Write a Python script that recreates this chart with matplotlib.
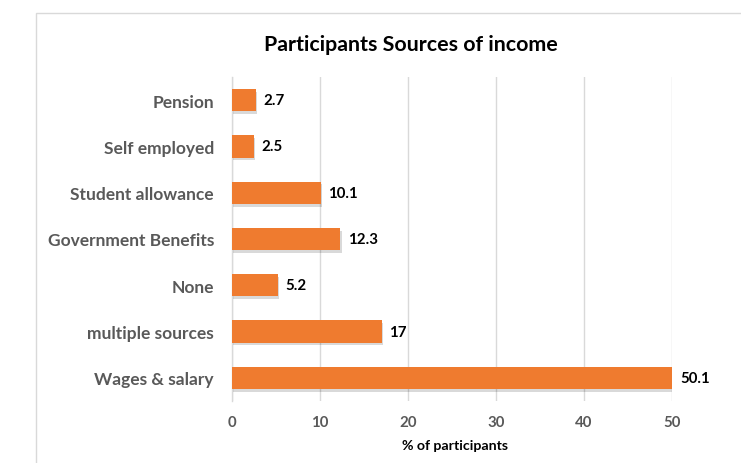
import matplotlib
matplotlib.use("Agg")
import matplotlib.pyplot as plt
import matplotlib.patches as mpatches
import matplotlib.patheffects as pe

# data (bottom to top)
categories = [
    "Wages & salary",
    "multiple sources",
    "None",
    "Government Benefits",
    "Student allowance",
    "Self employed",
    "Pension",
]
percent = [50.1, 17, 5.2, 12.3, 10.1, 2.5, 2.7]
value_labels = ["50.1", "17", "5.2", "12.3", "10.1", "2.5", "2.7"]
x_ticks = [0, 10, 20, 30, 40, 50]

plt.rcParams["font.family"] = ["Lato", "DejaVu Sans"]

W, H = 741, 464
fig = plt.figure(figsize=(W / 100, H / 100), dpi=100)

# chart frame (light grey border, cut off at right/bottom like the reference)
frame = mpatches.Rectangle(
    (36 / W, -0.05), 1.2, (H - 14) / H + 0.05,
    transform=fig.transFigure, fill=False, edgecolor="#d9d9d9", linewidth=1.0,
)
fig.patches.append(frame)

ax = fig.add_axes([232 / W, 62 / H, 440 / W, 324 / H])

ys = list(range(len(categories)))
bars = ax.barh(ys, percent, height=0.48, color="#ef7b2f", zorder=3)
for b in bars:
    b.set_path_effects([
        pe.SimplePatchShadow(offset=(1.0, -2.0), shadow_rgbFace="#000000", alpha=0.15),
        pe.Normal(),
    ])

for y, v, lab in zip(ys, percent, value_labels):
    ax.annotate(lab, (v, y), xytext=(5.5, 0), textcoords="offset points",
                ha="left", va="center", fontsize=10.8, fontweight="bold",
                color="black", annotation_clip=False)

ax.set_xlim(0, 50)
ax.set_ylim(-0.5, len(categories) - 0.5)
ax.set_xticks(x_ticks)
ax.set_yticks(ys)
ax.set_yticklabels(categories)
ax.tick_params(axis="both", length=0)
ax.tick_params(axis="y", pad=13, labelsize=12.5, labelcolor="#595959")
ax.tick_params(axis="x", pad=10, labelsize=10.8, labelcolor="#595959")
for lab in ax.get_yticklabels() + ax.get_xticklabels():
    lab.set_fontweight("bold")

ax.grid(axis="x", color="#d9d9d9", linewidth=1.0, zorder=0)
for side in ("top", "right", "bottom"):
    ax.spines[side].set_visible(False)
ax.spines["left"].set_color("#d9d9d9")
ax.spines["left"].set_linewidth(1.0)

fig.text(411 / W, 1 - 45 / H, "Participants Sources of income",
         ha="center", va="center", fontsize=15.4, fontweight="bold", color="black")
fig.text(455 / W, 1 - 446 / H, "% of participants",
         ha="center", va="center", fontsize=10.2, fontweight="bold", color="black")

fig.savefig("out.png", dpi=100, facecolor="white")
